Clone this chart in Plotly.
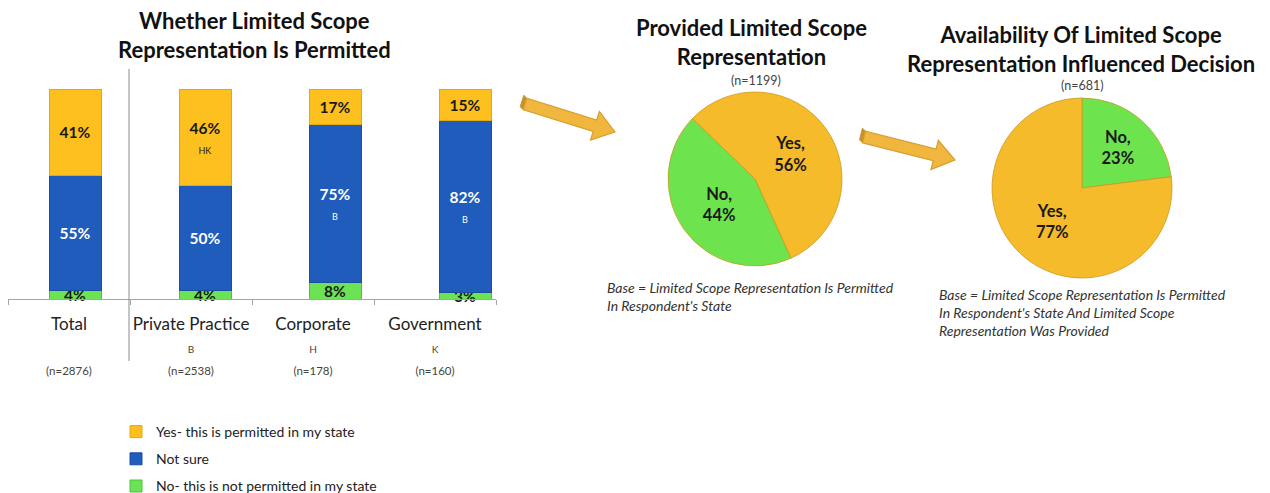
import math
import plotly.graph_objects as go

# ---- data -------------------------------------------------------------
categories = ["Total", "Private Practice", "Corporate", "Government"]
yes_pct = [41, 46, 17, 15]
not_sure_pct = [55, 50, 75, 82]
no_pct = [4, 4, 8, 3]
yes_sig = ["", "HK", "", ""]
not_sure_sig = ["", "", "B", "B"]
column_letters = ["", "B", "H", "K"]
column_n = [2876, 2538, 178, 160]

provided_labels = ["Yes", "No"]
provided_pct = [56, 44]
provided_n = 1199

influenced_labels = ["No", "Yes"]
influenced_pct = [23, 77]
influenced_n = 681

# ---- styling ------------------------------------------------------------
W, H = 1270, 493
FONT = "Lato"
YELLOW = "#FDC01E"
BLUE = "#1F5CBB"
GREEN = "#6BE354"
PIE_YELLOW = "#F6BB2A"
PIE_GREEN = "#6DE44E"
DARK = "#1A1A1A"


def px(x, y):
    """pixel position -> paper coordinates"""
    return x / W, 1 - y / H


def bar_text(vals, sig):
    out = []
    for v, s in zip(vals, sig):
        t = f"<b>{v}%</b>"
        if s:
            t += f"<br><span style='font-size:9px'>{s}</span>"
        out.append(t)
    return out


fig = go.Figure()

bar_common = dict(
    x=categories, xaxis="x", yaxis="y", width=0.4,
    textposition="inside", insidetextanchor="middle",
    constraintext="none", textangle=0, cliponaxis=False,
    hoverinfo="skip",
)
fig.add_trace(go.Bar(
    y=no_pct, name="No- this is not permitted in my state",
    marker=dict(color=GREEN, line=dict(color="#4FC23A", width=1)),
    text=bar_text(no_pct, [""] * 4),
    textfont=dict(family=FONT, size=15.5, color=DARK),
    legendgroup="no", legendrank=3, **bar_common))
fig.add_trace(go.Bar(
    y=not_sure_pct, name="Not sure",
    marker=dict(color=BLUE, line=dict(color="#1A4E9E", width=1)),
    text=bar_text(not_sure_pct, not_sure_sig),
    textfont=dict(family=FONT, size=15.5, color="white"),
    legendgroup="ns", legendrank=2, **bar_common))
fig.add_trace(go.Bar(
    y=yes_pct, name="Yes- this is permitted in my state",
    marker=dict(color=YELLOW, line=dict(color="#E0A812", width=1)),
    text=bar_text(yes_pct, yes_sig),
    textfont=dict(family=FONT, size=15.5, color=DARK),
    legendgroup="yes", legendrank=1, **bar_common))

# category labels live on a second x axis
ticktext = []
for c, letter, n in zip(categories, column_letters, column_n):
    ticktext.append(
        f"{c}<br><span style='font-size:10px;color:#444'>{letter if letter else '&nbsp;'}</span>"
        f"<br><span style='font-size:11.5px;color:#444'>(n={n})</span>")
fig.add_trace(go.Scatter(
    x=categories, y=[0] * len(categories), xaxis="x2", yaxis="y",
    mode="markers", marker=dict(opacity=0), showlegend=False, hoverinfo="skip"))

pie_text_font = dict(family=FONT, size=16.5, color=DARK, weight="bold")
x0, y0 = px(668, 266)
x1, y1 = px(842, 92)
fig.add_trace(go.Pie(
    labels=provided_labels, values=provided_pct, sort=False,
    direction="clockwise", rotation=-46,
    marker=dict(colors=[PIE_YELLOW, PIE_GREEN], line=dict(color="#C99A20", width=0.8)),
    texttemplate="%{label},<br>%{value}%", textposition="inside",
    insidetextorientation="horizontal", textfont=pie_text_font,
    domain=dict(x=[x0, x1], y=[y0, y1]), showlegend=False, hoverinfo="skip"))

x0, y0 = px(992, 278)
x1, y1 = px(1172, 98)
fig.add_trace(go.Pie(
    labels=influenced_labels, values=influenced_pct, sort=False,
    direction="clockwise", rotation=0,
    marker=dict(colors=[PIE_GREEN, PIE_YELLOW], line=dict(color="#C99A20", width=0.8)),
    texttemplate="%{label},<br>%{value}%", textposition="inside",
    insidetextorientation="horizontal", textfont=pie_text_font,
    domain=dict(x=[x0, x1], y=[y0, y1]), showlegend=False, hoverinfo="skip"))


# ---- decorations ----------------------------------------------------------
def _frame(tail, tip):
    dx, dy = tip[0] - tail[0], tip[1] - tail[1]
    L = math.hypot(dx, dy)
    ux, uy = dx / L, dy / L
    return ux, uy, -uy, ux


def to_path(points):
    pp = [px(*p) for p in points]
    return "M " + " L ".join(f"{a:.5f},{b:.5f}" for a, b in pp) + " Z"


def arrow_path(tail, tip, sw=6, hw=15, hl=21):
    ux, uy, nx, ny = _frame(tail, tip)
    hx, hy = tip[0] - ux * hl, tip[1] - uy * hl
    return to_path([
        (tail[0] + nx * sw, tail[1] + ny * sw),
        (hx + nx * sw, hy + ny * sw),
        (hx + nx * hw, hy + ny * hw),
        tip,
        (hx - nx * hw, hy - ny * hw),
        (hx - nx * sw, hy - ny * sw),
        (tail[0] - nx * sw, tail[1] - ny * sw),
    ])


def tail_face(tail, tip, sw=6, depth=(-3, -3)):
    ux, uy, nx, ny = _frame(tail, tip)
    a = (tail[0] + nx * sw, tail[1] + ny * sw)
    b = (tail[0] - nx * sw, tail[1] - ny * sw)
    return to_path([a, b, (b[0] + depth[0], b[1] + depth[1]),
                    (a[0] + depth[0], a[1] + depth[1])])


shapes = []
for tail, tip in [((525, 104), (615, 132)), ((864, 137), (955, 160))]:
    shapes.append(dict(type="path", xref="paper", yref="paper",
                       path=tail_face(tail, tip), fillcolor="#C8922A",
                       line=dict(color="#C8922A", width=1)))
    shapes.append(dict(type="path", xref="paper", yref="paper",
                       path=arrow_path(tail, tip), fillcolor="#F1B63E",
                       line=dict(color="#D59E30", width=1.2)))

sx, sy0 = px(129, 69)
_, sy1 = px(129, 361)
shapes.append(dict(type="line", xref="paper", yref="paper",
                   x0=sx, x1=sx, y0=sy0, y1=sy1,
                   line=dict(color="#8C8C8C", width=1)))

annotations = []


def add_text(x, y, text, size, color="#111", weight="normal", italic=False,
             xanchor="center", align="center"):
    ax, ay = px(x, y)
    annotations.append(dict(
        x=ax, y=ay, xref="paper", yref="paper", text=text, showarrow=False,
        xanchor=xanchor, yanchor="middle", align=align,
        font=dict(family=FONT, size=size, color=color, weight=weight,
                  style="italic" if italic else "normal")))


add_text(254, 35, "Whether Limited Scope<br>Representation Is Permitted", 22, weight="bold")
add_text(751, 42, "Provided Limited Scope<br>Representation", 22, weight="bold")
add_text(756, 80, f"(n={provided_n})", 12.5, color="#444")
add_text(1082, 85, f"(n={influenced_n})", 12.5, color="#444")
add_text(1081, 49, "Availability Of Limited Scope<br>Representation Influenced Decision", 22, weight="bold")
add_text(605, 296, "Base = Limited Scope Representation Is Permitted<br>In Respondent's State",
         14, color="#333", italic=True, xanchor="left", align="left")
add_text(937, 312, "Base = Limited Scope Representation Is Permitted<br>"
         "In Respondent's State And Limited Scope<br>Representation Was Provided",
         14, color="#333", italic=True, xanchor="left", align="left")

bx0, _ = px(10, 0)
bx1, _ = px(530, 0)
lx0, _ = px(8, 0)
lx1, _ = px(496, 0)
_, yb = px(0, 299)
_, yt = px(0, 89)
lgx, lgy = px(116, 416)

fig.update_layout(
    autosize=True, margin=dict(l=0, r=0, t=0, b=0, autoexpand=False),
    paper_bgcolor="white", plot_bgcolor="rgba(0,0,0,0)",
    barmode="stack",
    font=dict(family=FONT, color="#222"),
    xaxis=dict(domain=[bx0, bx1], type="category", range=[-0.5, 3.5],
               showticklabels=False, showline=False, showgrid=False,
               zeroline=False, ticks="", anchor="y"),
    xaxis2=dict(domain=[lx0, lx1], type="category", range=[-0.5, 3.5],
                categoryorder="array", categoryarray=categories,
                tickvals=categories, ticktext=ticktext, tickangle=0,
                ticklabelstandoff=10, automargin=False,
                showline=True, linecolor="#A6A6A6", linewidth=1,
                ticks="outside", tickson="boundaries", ticklen=5,
                tickcolor="#A6A6A6", showgrid=False, zeroline=False,
                tickfont=dict(family=FONT, size=17, color="#222"),
                anchor="y"),
    yaxis=dict(domain=[yb, yt], range=[0, 100], visible=False, anchor="x"),
    legend=dict(x=lgx, y=lgy, xanchor="left", yanchor="top",
                traceorder="grouped", tracegroupgap=6,
                font=dict(family=FONT, size=14, color="#222"),
                itemwidth=30, bgcolor="rgba(0,0,0,0)"),
    shapes=shapes, annotations=annotations,
)

fig.write_html("out.html", default_width="100vw", default_height="100vh",
               config={"responsive": True})
